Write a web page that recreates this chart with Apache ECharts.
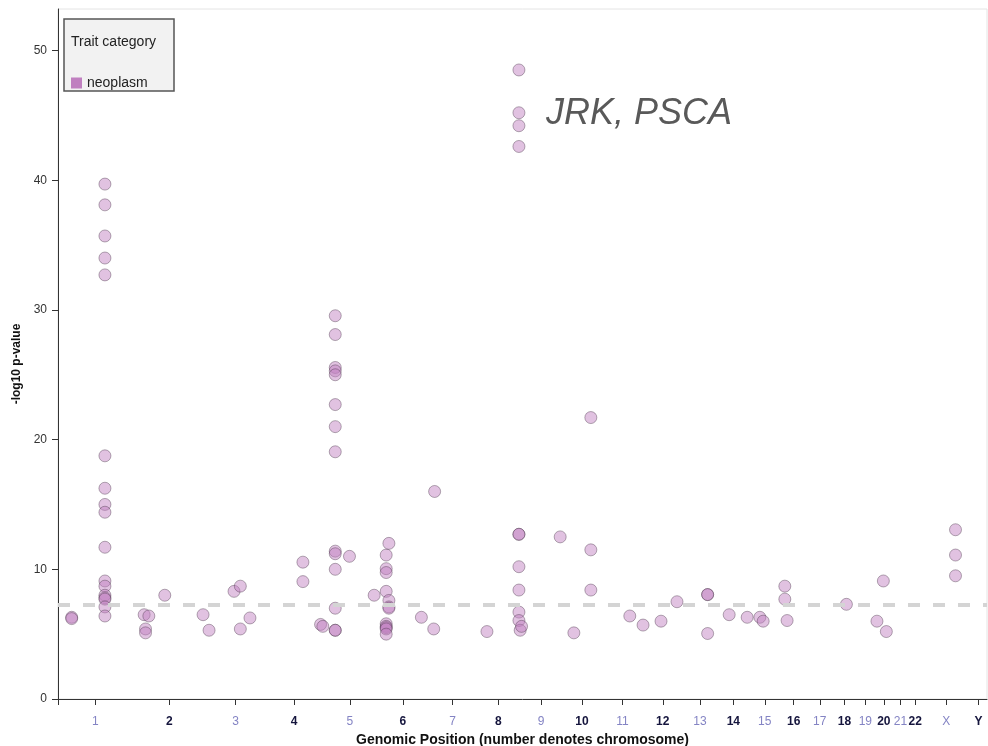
<!DOCTYPE html>
<html>
<head>
<meta charset="utf-8">
<script src="https://cdn.jsdelivr.net/npm/echarts@6/dist/echarts.min.js"></script>
<style>
  html, body { margin: 0; padding: 0; background: #ffffff; }
  #chart { width: 988px; height: 746px; }
</style>
</head>
<body>
<div id="chart"></div>
<script>
// Chromosome names (tick labels) and lengths in Mb (GRCh38)
var chromNames = ['1','2','3','4','5','6','7','8','9','10','11','12','13','14','15','16','17','18','19','20','21','22','X','Y'];
var chromLengths = [248.96,242.19,198.30,190.21,181.54,170.81,159.35,145.14,138.39,133.80,135.09,133.28,114.36,107.04,101.99,90.34,83.26,80.37,58.62,64.44,46.71,50.82,156.04,57.23];

// Associations: chromosome, position within chromosome (Mb), -log10 p-value
// (one line per chromosome, same order in the three arrays)
var snpChrom = [
  '1','1','1','1','1','1','1','1','1','1','1','1','1','1','1','1','1','1','1',
  '2','2','2','2','2','2',
  '3','3','3','3','3',
  '4','4','4',
  '5','5','5','5','5','5','5','5','5','5','5','5','5','5','5','5','5',
  '6','6','6','6','6','6','6','6','6','6','6','6','6','6',
  '7','7',
  '8','8','8','8','8','8','8','8','8','8','8','8',
  '9','9',
  '10','10','10','10',
  '11',
  '12','12','12',
  '13','13','13',
  '14','14',
  '15','15',
  '16','16','16',
  '18',
  '20','20','20',
  'X','X','X'
];
var snpPos = [
  45.5,45.5,156,156,156,156,156,156,156,156,156,156,156,156,156,156,156,156,156,
  37.4,53,42,42,106,233.3,
  11,94,115,115,147,
  124.7,124.7,183.4,
  0.8,42,42,42,42,42,42,42,42,42,42,42,42,42,42,89.3,171.3,
  29.8,29.8,29.8,29.8,29.8,29.8,29.8,29.8,29.8,38.8,38.8,38.8,38.8,146.8,
  17,20,
  34.6,140.9,140.9,140.9,140.9,140.9,140.9,140.9,140.9,140.9,140.9,145.0,
  4.5,132.9,
  40,96.4,96.4,96.4,
  92.1,
  1.1,60.8,113.9,
  82.5,82.5,82.5,
  39.8,99.6,
  34.7,45.7,
  15.7,15.7,23.3,
  46.9,
  9.4,30.7,40.6,
  108.6,108.6,108.6
];
var snpLogP = [
  6.3,6.2,39.7,38.1,35.7,34.0,32.7,18.75,16.25,15.0,14.4,11.7,9.1,8.7,8.0,7.8,7.7,7.1,6.4,
  6.5,6.4,5.4,5.1,8.0,6.5,
  5.3,8.3,8.7,5.4,6.25,
  10.55,9.05,5.75,
  5.6,29.55,28.1,25.56,25.3,25.0,22.7,21.0,19.06,11.4,11.2,10.0,7.0,5.3,5.3,11.0,8.0,
  8.3,11.1,10.05,9.75,5.8,5.6,5.5,5.4,5.0,12.0,7.6,7.1,7.0,6.3,
  5.4,16.0,
  5.2,48.5,45.2,44.2,42.6,12.7,12.7,10.2,8.4,6.7,6.05,5.3,
  5.6,12.5,
  5.1,21.7,11.5,8.4,
  6.4,
  5.7,6.0,7.5,
  8.05,8.05,5.05,
  6.5,6.3,
  6.3,6.0,
  8.7,7.7,6.05,
  7.3,
  6.0,9.1,5.2,
  13.05,11.1,9.5
];

var yTickValues = [0,10,20,30,40,50];
var significanceLine = 7.3;

// cumulative offsets
var chromStart = [];
var acc = 0;
for (var i = 0; i < chromLengths.length; i++) { chromStart.push(acc); acc += chromLengths[i]; }
var genomeTotal = acc;
var chromCenters = chromStart.map(function (s, i) { return s + chromLengths[i] / 2; });

var points = snpChrom.map(function (c, i) {
  var k = chromNames.indexOf(c);
  return [chromStart[k] + snpPos[i], snpLogP[i]];
});

var FONT = '"Liberation Sans", Arial, sans-serif';

var chart = echarts.init(document.getElementById('chart'), null, { renderer: 'canvas' });
chart.setOption({
  animation: false,
  backgroundColor: '#ffffff',
  grid: {
    left: 58, right: 1, top: 9, bottom: 47,
    outerBoundsMode: 'none',
    containLabel: false,
    show: true, borderColor: '#e4e4e4', borderWidth: 1, backgroundColor: 'transparent'
  },
  xAxis: {
    type: 'value',
    min: 0,
    max: genomeTotal,
    name: 'Genomic Position (number denotes chromosome)',
    nameLocation: 'middle',
    nameGap: 34,
    nameTextStyle: { fontFamily: FONT, fontSize: 14, fontWeight: 'bold', color: '#111' },
    axisLine: { show: true, lineStyle: { color: '#333', width: 1 } },
    axisTick: { show: true, length: 6, customValues: [0].concat(chromCenters), lineStyle: { color: '#333' } },
    axisLabel: {
      customValues: chromCenters,
      margin: 17,
      formatter: function (v) {
        var best = 0, bd = Infinity;
        for (var i = 0; i < chromCenters.length; i++) {
          var d = Math.abs(chromCenters[i] - v);
          if (d < bd) { bd = d; best = i; }
        }
        return (best % 2 === 0 ? '{odd|' : '{even|') + chromNames[best] + '}';
      },
      rich: {
        odd: { fontFamily: FONT, fontSize: 12, color: '#8484c4' },
        even: { fontFamily: FONT, fontSize: 12, fontWeight: 'bold', color: '#15153d' }
      }
    },
    splitLine: { show: false }
  },
  yAxis: {
    type: 'value',
    min: 0,
    max: 53.2,
    interval: 10,
    name: '-log10 p-value',
    nameLocation: 'middle',
    nameGap: 34,
    nameTextStyle: { fontFamily: FONT, fontSize: 12, fontWeight: 'bold', color: '#111', padding: [0, 20, 0, 0] },
    axisLine: { show: true, lineStyle: { color: '#333', width: 1 } },
    axisTick: { show: true, length: 6, customValues: yTickValues, lineStyle: { color: '#333' } },
    axisLabel: { customValues: yTickValues, margin: 11, fontFamily: FONT, fontSize: 12, color: '#333' },
    splitLine: { show: false }
  },
  legend: {
    data: ['neoplasm'],
    left: 71,
    top: 76,
    padding: 0,
    z: 20,
    icon: 'rect',
    itemWidth: 11,
    itemHeight: 11,
    itemStyle: { color: '#c080c0', opacity: 1, borderWidth: 0 },
    textStyle: { fontFamily: FONT, fontSize: 14, color: '#222' },
    selectedMode: false
  },
  graphic: [
    {
      type: 'rect', z: 0,
      shape: { x: 64, y: 19, width: 110, height: 72 },
      style: { fill: '#f2f2f2', stroke: '#555', lineWidth: 1.5 }
    },
    {
      type: 'text', z: 1, x: 71, y: 42,
      style: { text: 'Trait category', font: '14px ' + FONT, fill: '#222', verticalAlign: 'middle' }
    },
    {
      type: 'text', z: 1, x: 546, y: 114,
      style: { text: 'JRK, PSCA', font: 'italic 36px ' + FONT, fill: '#595959', verticalAlign: 'middle' }
    }
  ],
  series: [
    {
      name: 'threshold',
      type: 'scatter',
      data: [],
      z: 1,
      silent: true,
      markLine: {
        silent: true,
        symbol: 'none',
        label: { show: false },
        lineStyle: { color: '#d4d4d4', width: 4, type: [12, 13] },
        data: [{ yAxis: significanceLine }]
      }
    },
    {
      name: 'neoplasm',
      type: 'scatter',
      z: 2,
      symbol: 'circle',
      symbolSize: 12,
      data: points,
      itemStyle: {
        color: 'rgba(192,128,192,0.6)',
        borderColor: 'rgba(70,50,70,0.5)',
        borderWidth: 1
      }
    }
  ]
});
</script>
</body>
</html>
